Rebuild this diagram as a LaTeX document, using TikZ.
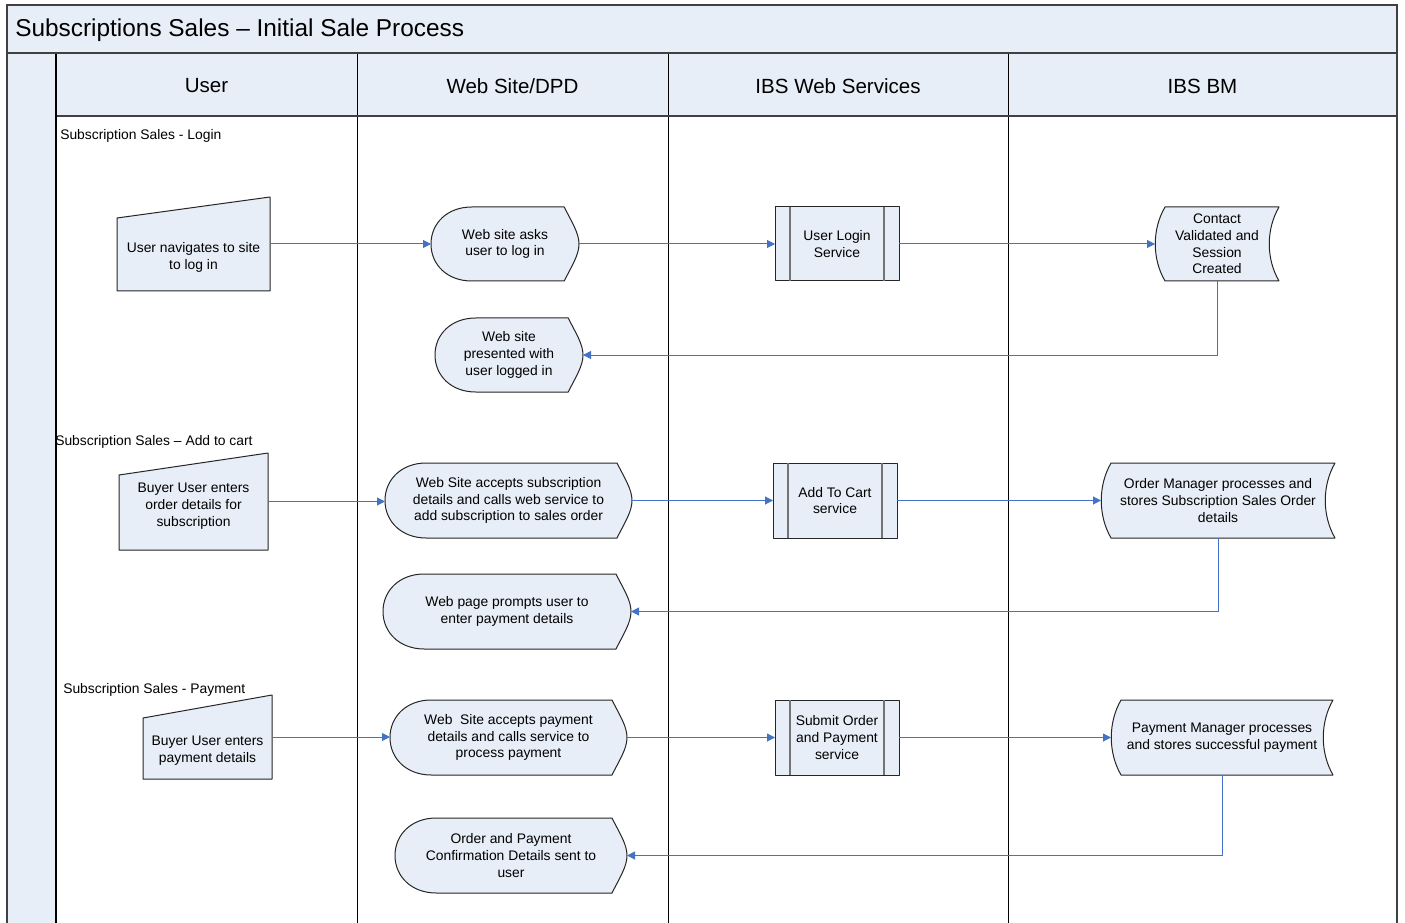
\documentclass[tikz,border=0pt]{standalone}
\usepackage{fontspec}
\setmainfont{Liberation Sans}
\usetikzlibrary{arrows.meta}
\definecolor{lanefill}{RGB}{232,238,247}
\definecolor{framecol}{RGB}{64,64,64}
\definecolor{arrowblue}{RGB}{68,114,196}
\tikzset{
  shp/.style={draw=black!85, fill=lanefill, line width=0.75pt, line join=round},
  innerline/.style={draw=black!55, line width=0.9pt},
  box/.style={inner sep=0pt, outer sep=0pt, draw=none},
  txt/.style={font=\fontsize{10.4}{12.6}\selectfont, align=center, inner sep=0pt},
  flow/.style={draw=arrowblue, line width=0.75pt, -{Triangle[length=6pt,width=6pt]}},
  lanehead/.style={font=\fontsize{15.4}{18}\selectfont, inner sep=0pt},
  seclabel/.style={font=\fontsize{10.4}{12.6}\selectfont, anchor=west, inner sep=0pt},
  frameline/.style={draw=framecol, line width=1.5pt},
  laneline/.style={draw=black, line width=0.75pt},
}
% an invisible node covering the shape's bounding box: name, x0, y0, x1, y1, text
\newcommand\areanode[6]{%
  \node[box, txt, minimum width={(#4-#2)*0.75pt}, minimum height={(#5-#3)*0.75pt}]
    (#1) at ({(#2+#4)/2},{(#3+#5)/2}) {#6};
}
% manual input: name, x0, y top-right, x1, y bottom, slant, text centre y, text
\newcommand\manualbox[8]{%
  \draw[shp] (#2,{#3+#6}) -- (#4,#3) -- (#4,#5) -- (#2,#5) -- cycle;
  \areanode{#1}{#2}{#3}{#4}{#5}{}
  \node[txt] (#1t) at ({(#2+#4)/2},#7) {#8};
}
% display: name, x0, y0, x1, y1, text
\newcommand\displaybox[6]{%
  \draw[shp] ({#2+0.55*(#5-#3)},#3) -- ({#4-0.2*(#5-#3)},#3)
    .. controls ({#4-0.1*(#5-#3)},{#3+0.2*(#5-#3)}) and (#4,{#3+0.35*(#5-#3)}) .. (#4,{(#3+#5)/2})
    .. controls (#4,{#5-0.35*(#5-#3)}) and ({#4-0.1*(#5-#3)},{#5-0.2*(#5-#3)}) .. ({#4-0.2*(#5-#3)},#5)
    -- ({#2+0.55*(#5-#3)},#5)
    .. controls ({#2+0.22*(#5-#3)},#5) and (#2,{#5-0.22*(#5-#3)}) .. (#2,{(#3+#5)/2})
    .. controls (#2,{#3+0.22*(#5-#3)}) and ({#2+0.22*(#5-#3)},#3) .. cycle;
  \areanode{#1}{#2}{#3}{#4}{#5}{#6}
}
% predefined process: name, x0, y0, x1, y1, text
\newcommand\predefbox[6]{%
  \draw[shp] (#2,#3) rectangle (#4,#5);
  \draw[innerline] ({#2+15},#3) -- ({#2+15},#5) ({#4-15},#3) -- ({#4-15},#5);
  \areanode{#1}{#2}{#3}{#4}{#5}{#6}
}
% stored data: name, x0, y0, x1, y1, text
\newcommand\storedbox[6]{%
  \draw[shp] ({#2+10},#3) -- (#4,#3)
    .. controls ({#4-13},{#3+0.3*(#5-#3)}) and ({#4-13},{#5-0.3*(#5-#3)}) .. (#4,#5)
    -- ({#2+10},#5)
    .. controls ({#2-3},{#5-0.3*(#5-#3)}) and ({#2-3},{#3+0.3*(#5-#3)}) .. cycle;
  \areanode{#1}{#2}{#3}{#4}{#5}{#6}
}
\begin{document}
\begin{tikzpicture}[x=0.75pt, y=-0.75pt]
\useasboundingbox (0,0) rectangle (1405,923);
\clip (0,0) rectangle (1405,923);
\fill[white] (0,0) rectangle (1405,923);
% frame and lanes
\fill[lanefill] (7,5) rectangle (1397,53);
\fill[lanefill] (7,53) rectangle (56,960);
\fill[lanefill] (56,53) rectangle (1397,116);
\draw[laneline] (357,53) -- (357,960) (668,53) -- (668,960) (1008,53) -- (1008,960);
\draw[frameline] (56,116) -- (1397,116);
\draw[draw=black, line width=1.2pt] (56,53) -- (56,960);
\draw[frameline] (7,53) -- (1397,53);
\draw[frameline] (7,960) -- (7,5) -- (1397,5) -- (1397,960);
% title and headers
\node[anchor=west, inner sep=0pt, font=\fontsize{18.3}{21}\selectfont] (title) at (15,30) {Subscriptions Sales -- Initial Sale Process};
\node[lanehead] (hUser) at (206.5,86) {User};
\node[lanehead] (hWeb) at (512.5,86) {Web Site/DPD};
\node[lanehead] (hIBSWS) at (838,86) {IBS Web Services};
\node[lanehead] (hIBSBM) at (1202.5,86) {IBS BM};
% section labels
\node[seclabel] (s1) at (60,136) {Subscription Sales - Login};
\node[seclabel] (s2) at (55,442) {Subscription Sales -- Add to cart};
\node[seclabel] (s3) at (63,690) {Subscription Sales - Payment};
% row 1
\manualbox{n1}{117}{197}{270}{291}{21}{257.5}{User navigates to site\\to log in}
\displaybox{n2}{431}{207}{579}{281}{Web site asks\\user to log in}
\predefbox{n3}{775}{207}{899}{281}{User Login\\Service}
\storedbox{n4}{1155}{207}{1279}{281}{Contact\\Validated and\\Session\\Created}
\displaybox{n5}{435}{318}{583}{392}{Web site\\presented with\\user logged in}
% row 2
\manualbox{n6}{119}{453}{268}{550}{22}{506}{Buyer User enters\\order details for\\subscription}
\displaybox{n7}{385}{463}{632}{538}{Web Site accepts subscription\\details and calls web service to\\add subscription to sales order}
\predefbox{n8}{773}{463}{897}{538}{Add To Cart\\service}
\storedbox{n9}{1101}{463}{1335}{538}{Order Manager processes and\\stores Subscription Sales Order\\details}
\displaybox{n10}{383}{574}{631}{649}{Web page prompts user to\\enter payment details}
% row 3
\manualbox{n11}{143}{695}{272}{779}{23}{751}{Buyer User enters\\payment details}
\displaybox{n12}{390}{700}{627}{775}{Web\ \ Site accepts payment\\details and calls service to\\process payment}
\predefbox{n13}{775}{700}{899}{775}{Submit Order\\and Payment\\service}
\storedbox{n14}{1111}{700}{1333}{775}{Payment Manager processes\\and stores successful payment}
\displaybox{n15}{395}{818}{627}{893}{Order and Payment\\Confirmation Details sent to\\user}
% connectors
\draw[flow] (n1.east) -- (n1.east -| n2.west);
\draw[flow] (n2.east) -- (n2.east -| n3.west);
\draw[flow] (n3.east) -- (n3.east -| n4.west);
\draw[flow] (n4.south) |- (n5.east);
\draw[flow] (n6.east) -- (n6.east -| n7.west);
\draw[flow] (n7.east) -- (n7.east -| n8.west);
\draw[flow] (n8.east) -- (n8.east -| n9.west);
\draw[flow] (n9.south) |- (n10.east);
\draw[flow] (n11.east) -- (n11.east -| n12.west);
\draw[flow] (n12.east) -- (n12.east -| n13.west);
\draw[flow] (n13.east) -- (n13.east -| n14.west);
\draw[flow] (n14.south) |- (n15.east);
\end{tikzpicture}
\end{document}
